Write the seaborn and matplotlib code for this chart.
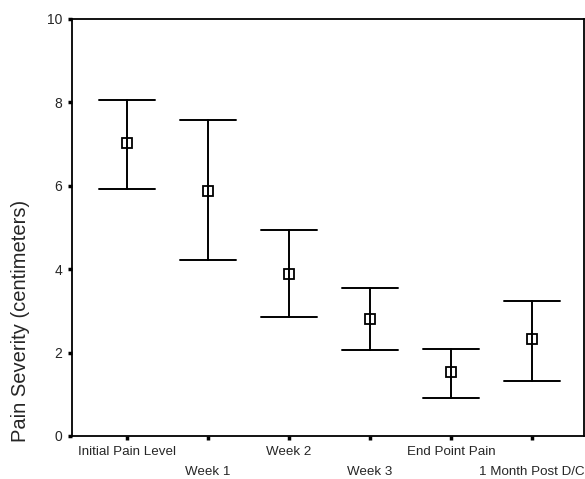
import pandas as pd
import seaborn as sns
import matplotlib.pyplot as plt

# values: lower bound, mean, upper bound
stages = ["Initial Pain Level", "Week 1", "Week 2", "Week 3", "End Point Pain", "1 Month Post D/C"]
lower = [5.92, 4.22, 2.85, 2.06, 0.91, 1.32]
means = [7.03, 5.88, 3.88, 2.81, 1.53, 2.33]
upper = [8.06, 7.58, 4.94, 3.55, 2.09, 3.24]

# long table: median of (lower, mean, upper) is the mean, min/max are the bar ends
df = pd.DataFrame({
    "stage": stages * 3,
    "pain": lower + means + upper,
})

sns.set_theme(style="white")
plt.rcParams['font.family'] = ['Liberation Sans', 'DejaVu Sans']

fig = plt.figure(figsize=(5.85, 4.79), dpi=100)
ax = fig.add_axes([0.123, 0.0898, 0.875, 0.8706])

sns.pointplot(data=df, x="stage", y="pain", order=stages,
              estimator="median", errorbar=lambda v: (v.min(), v.max()),
              linestyle="none", marker="s", color="black", capsize=0.69,
              markersize=7, markerfacecolor="none", markeredgewidth=1.3,
              err_kws={"linewidth": 1.4}, ax=ax)

ax.set_xlim(-0.68, 5.64)
ax.set_ylim(0, 10)
ax.set_yticks([0, 2, 4, 6, 8, 10])
ax.set_xlabel("")
ax.set_ylabel("Pain Severity (centimeters)", fontsize=14.5)
ax.yaxis.set_label_coords(-0.082, 0.276)

for s in ax.spines.values():
    s.set_color("black")
    s.set_linewidth(1.3)

ax.tick_params(axis="both", direction="out", length=3, width=2.5,
               color="black", pad=4, bottom=True, left=True)
ax.tick_params(axis="y", labelsize=10)
ax.tick_params(axis="x", labelsize=9.6)

# alternate the category labels onto two rows
for i, lab in enumerate(ax.get_xticklabels()):
    if i % 2 == 1:
        lab.set_y(-0.048)

fig.savefig("out.png", dpi=100)
